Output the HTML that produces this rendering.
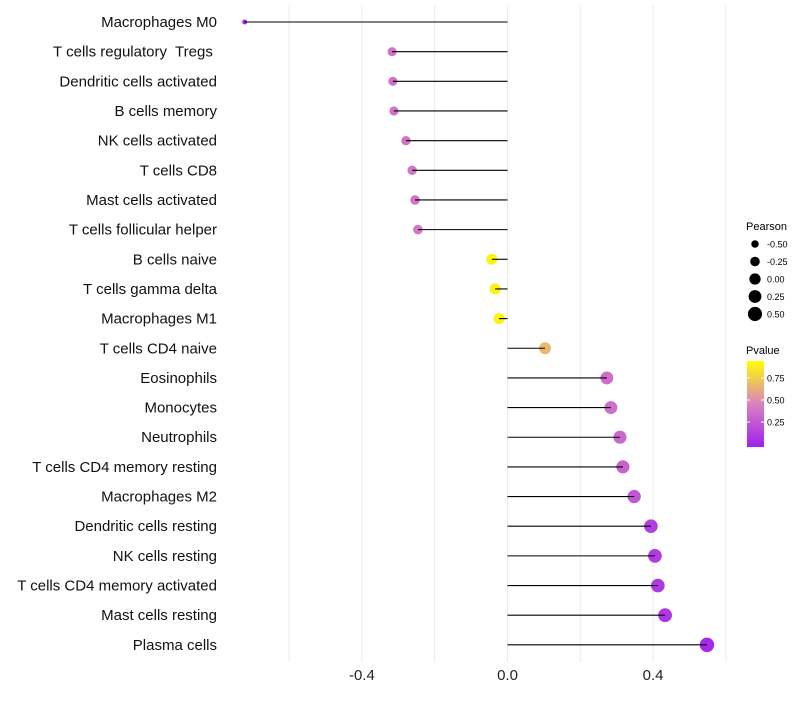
<!DOCTYPE html>
<html><head><meta charset="utf-8"><style>
body{margin:0;background:#fff}
svg{font-family:"Liberation Sans",sans-serif}
</style></head><body>
<svg id="c" width="800" height="700">
<defs><linearGradient id="pg" x1="0" y1="1" x2="0" y2="0">
<stop offset="0" stop-color="#a020f0"/><stop offset="0.5" stop-color="#d982c0"/><stop offset="1" stop-color="#ffff00"/>
</linearGradient></defs>
<g id="grid"></g><g id="marks"></g><g id="labels"></g>
<g>
<text x="746" y="230" font-size="11">Pearson</text>
<g id="sizeleg"></g>
<text x="746" y="354" font-size="11">Pvalue</text>
<rect x="747" y="361" width="17" height="86" fill="url(#pg)"/>
<g id="colleg"></g>
</g>
</svg>
<script>
const categories=["Macrophages M0","T cells regulatory\u00a0 Tregs\u00a0","Dendritic cells activated","B cells memory","NK cells activated","T cells CD8","Mast cells activated","T cells follicular helper","B cells naive","T cells gamma delta","Macrophages M1","T cells CD4 naive","Eosinophils","Monocytes","Neutrophils","T cells CD4 memory resting","Macrophages M2","Dendritic cells resting","NK cells resting","T cells CD4 memory activated","Mast cells resting","Plasma cells"];
const pearson=[-0.722,-0.317,-0.315,-0.312,-0.279,-0.262,-0.254,-0.246,-0.043,-0.034,-0.023,0.103,0.273,0.284,0.309,0.317,0.348,0.394,0.405,0.413,0.433,0.548];
const pvalue=[0.005,0.42,0.42,0.42,0.42,0.44,0.44,0.45,0.95,0.95,0.95,0.72,0.4,0.4,0.37,0.34,0.28,0.16,0.14,0.13,0.11,0.05];
const xTicks=[-0.4,0.0,0.4];
const xTickLabels=["-0.4","0.0","0.4"];
const gridMinor=[-0.6,-0.2,0.2,0.6];
const sizeLegVals=[-0.5,-0.25,0,0.25,0.5];
const colLegVals=[0.25,0.5,0.75];
const NS="http://www.w3.org/2000/svg";
const X=v=>507.5+v*364;
const Y=i=>22+i*29.66;
const R=v=>Math.sqrt(Math.max(3,32+36*v));
function lerp(a,b,t){return a.map((x,i)=>Math.round(x+(b[i]-x)*t));}
function col(p){const c0=[160,32,240],c1=[217,130,192],c2=[255,255,0];
 const c=p<0.5?lerp(c0,c1,p/0.5):lerp(c1,c2,(p-0.5)/0.5);return `rgb(${c})`;}
function mk(t,a,par){const e=document.createElementNS(NS,t);for(const k in a)e.setAttribute(k,a[k]);document.getElementById(par).appendChild(e);return e;}
gridMinor.concat(xTicks).forEach(v=>{const l=mk('line',{x1:X(v),x2:X(v),y1:5,y2:662,stroke:'#ebebeb','stroke-width':1},'grid');

});
xTicks.forEach((v,i)=>{const t=mk('text',{x:X(v),y:680,'font-size':15,'text-anchor':'middle',fill:'#222'},'labels');t.textContent=xTickLabels[i];

});
categories.forEach((c,i)=>{
 const t=mk('text',{x:217,y:Y(i)+5,'font-size':15,'text-anchor':'end',fill:'#111'},'labels');t.textContent=c;
 
 
 const p=mk('circle',{cx:X(pearson[i]),cy:Y(i),r:R(pearson[i]),fill:col(pvalue[i])},'marks');
 
 
 const l=mk('line',{x1:X(0),x2:X(pearson[i]),y1:Y(i),y2:Y(i),stroke:'#000','stroke-width':1.1},'marks');
 
 
});
sizeLegVals.forEach((v,i)=>{const y=244+i*17.5;
 const c=mk('circle',{cx:755,cy:y,r:R(v),fill:'#000'},'sizeleg');
 
 
 const t=mk('text',{x:767,y:y+3.5,'font-size':9},'sizeleg');t.textContent=v.toFixed(2);
 
 });
colLegVals.forEach(v=>{const y=444-v*88;
 mk('line',{x1:747,x2:750,y1:y,y2:y,stroke:'#fff'},'colleg');mk('line',{x1:761,x2:764,y1:y,y2:y,stroke:'#fff'},'colleg');
 const t=mk('text',{x:767,y:y+3.5,'font-size':9},'colleg');t.textContent=v.toFixed(2);
 
 });
</script>
</body></html>
